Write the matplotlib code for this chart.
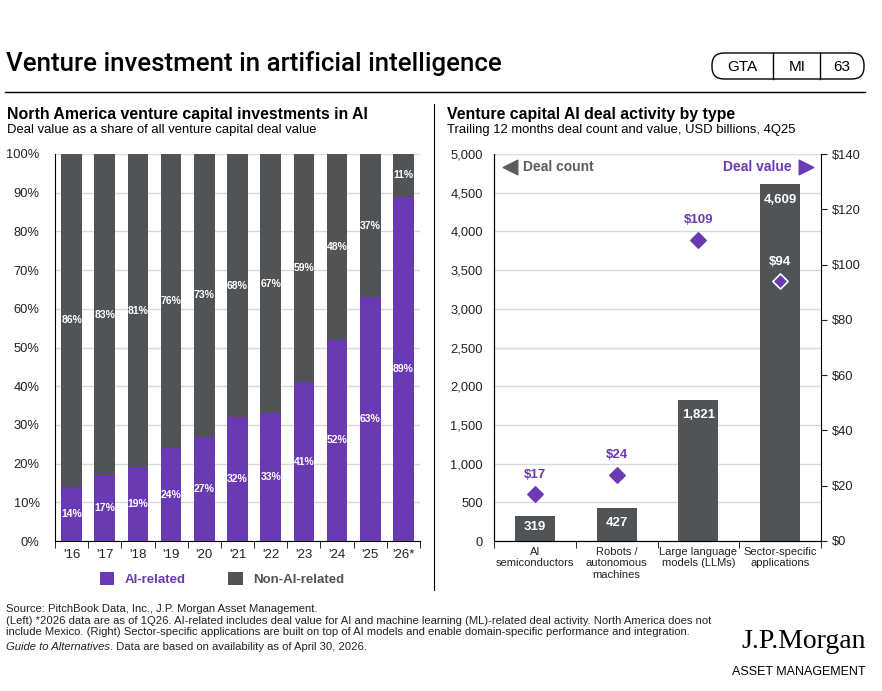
import matplotlib.pyplot as plt
import numpy as np
from matplotlib.patches import FancyBboxPatch, Rectangle

plt.rcParams['font.family'] = ['Liberation Sans', 'DejaVu Sans']

# ---- data ----
years = ["'16", "'17", "'18", "'19", "'20", "'21", "'22", "'23", "'24", "'25", "'26*"]
ai_share = [14, 17, 19, 24, 27, 32, 33, 41, 52, 63, 89]
non_ai_share = [86, 83, 81, 76, 73, 68, 67, 59, 48, 37, 11]

deal_types = ['AI\nsemiconductors', 'Robots /\nautonomous\nmachines',
              'Large language\nmodels (LLMs)', 'Sector-specific\napplications']
deal_count = [319, 427, 1821, 4609]
deal_value = [17, 24, 109, 94]

PURPLE = '#6a3ab2'
GRAY = '#515457'
GRID = '#d9d9d9'
TXT = '#222222'

W, H = 882, 691
fig = plt.figure(figsize=(W / 100, H / 100), dpi=100)


def rect(x0, y0, x1, y1):
    # pixel box (top-left origin) -> figure fraction
    return [x0 / W, 1 - y1 / H, (x1 - x0) / W, (y1 - y0) / H]


# overlay in pixel coordinates for header/footer decorations
deco = fig.add_axes([0, 0, 1, 1], zorder=-1)
deco.set_xlim(0, W)
deco.set_ylim(H, 0)
deco.axis('off')

deco.text(6, 63, 'Venture investment in artificial intelligence', fontsize=18.6,
          family=['Roboto', 'Liberation Sans'], fontweight='medium', color='black',
          va='center', ha='left')
deco.add_patch(FancyBboxPatch((712, 53), 152, 26, boxstyle='round,pad=0,rounding_size=12',
                              fc='white', ec='black', lw=1))
deco.plot([773, 773], [53, 79], color='black', lw=1)
deco.plot([820, 820], [53, 79], color='black', lw=1)
for x, s in [(742, 'GTA'), (797, 'MI'), (842, '63')]:
    deco.text(x, 66.5, s, fontsize=11, ha='center', va='center')
deco.plot([5, 865], [92, 92], color='black', lw=1)
deco.plot([434, 434], [104, 590], color='black', lw=0.8)

deco.text(7, 114, 'North America venture capital investments in AI', fontsize=11.4,
          fontweight='bold', va='center')
deco.text(7, 130, 'Deal value as a share of all venture capital deal value', fontsize=9.4,
          va='center')
deco.text(447, 114, 'Venture capital AI deal activity by type', fontsize=11.4,
          fontweight='bold', va='center')
deco.text(447, 130, 'Trailing 12 months deal count and value, USD billions, 4Q25', fontsize=9.4,
          va='center')

footer = ('Source: PitchBook Data, Inc., J.P. Morgan Asset Management.\n'
          '(Left) *2026 data are as of 1Q26. AI-related includes deal value for AI and machine '
          'learning (ML)-related deal activity. North America does not\n'
          'include Mexico. (Right) Sector-specific applications are built on top of AI models and '
          'enable domain-specific performance and integration.')
deco.text(6, 604, footer, fontsize=8.1, va='top', linespacing=1.2, color=TXT)
guide = deco.text(6, 647, 'Guide to Alternatives', fontsize=8.1, style='italic', va='center',
                  color=TXT)
deco.annotate('. Data are based on availability as of April 30, 2026.', xy=(1, 0.5),
              xycoords=guide, va='center', ha='left', fontsize=8.1, color=TXT)
deco.text(866, 642, 'J.P.Morgan', fontsize=20, family='Liberation Serif', ha='right', va='center')
deco.text(866, 672, 'ASSET MANAGEMENT', fontsize=9, ha='right', va='center')

# ---- left chart ----
ax1 = fig.add_axes(rect(55, 154, 420, 541))
x = np.arange(len(years))
ax1.bar(x, ai_share, width=0.62, color=PURPLE, zorder=3)
ax1.bar(x, non_ai_share, width=0.62, bottom=ai_share, color=GRAY, zorder=3)
for i in range(len(years)):
    ax1.text(x[i], ai_share[i] / 2, f'{ai_share[i]}%', color='white', fontsize=7.5,
             fontweight='bold', ha='center', va='center', zorder=4)
    ax1.text(x[i], ai_share[i] + non_ai_share[i] / 2, f'{non_ai_share[i]}%', color='white',
             fontsize=7.5, fontweight='bold', ha='center', va='center', zorder=4)
ax1.set_xlim(-0.5, len(years) - 0.5)
ax1.set_ylim(0, 100)
ax1.set_yticks(range(0, 101, 10))
ax1.set_yticklabels([f'{v}%' for v in range(0, 101, 10)])
ax1.set_xticks(x)
ax1.set_xticklabels(years)
ax1.set_xticks(np.arange(-0.5, len(years), 1), minor=True)
ax1.tick_params(axis='x', which='major', length=0, labelsize=9.5, pad=6, colors=TXT)
ax1.tick_params(axis='x', which='minor', length=5, direction='out', color='black')
ax1.tick_params(axis='y', length=0, labelsize=9.3, pad=11, colors=TXT)
ax1.grid(axis='y', color=GRID, lw=1, zorder=0)
for s in ['top', 'right']:
    ax1.spines[s].set_visible(False)

handles = [Rectangle((0, 0), 1, 1, fc=PURPLE), Rectangle((0, 0), 1, 1, fc=GRAY)]
leg = fig.legend(handles, ['AI-related', 'Non-AI-related'], loc='center',
                 bbox_to_anchor=(222 / W, 1 - 579 / H), ncol=2, frameon=False,
                 fontsize=9.5, handlelength=1.1, handleheight=1.1, columnspacing=3.2,
                 handletextpad=0.8)
for t, c in zip(leg.get_texts(), [PURPLE, GRAY]):
    t.set_color(c)
    t.set_fontweight('bold')

# ---- right chart ----
ax2 = fig.add_axes(rect(494, 154, 821, 541))
xr = np.arange(len(deal_types))
ax2.bar(xr, deal_count, width=0.49, color=GRAY, zorder=3)
for i, v in enumerate(deal_count):
    if v < 500:
        ax2.text(xr[i], v / 2 + 15, f'{v:,}', color='white', fontsize=9.5, fontweight='bold',
                 ha='center', va='center', zorder=4)
    else:
        ax2.annotate(f'{v:,}', (xr[i], v), xytext=(0, -11), textcoords='offset points',
                     color='white', fontsize=9.5, fontweight='bold', ha='center', va='center',
                     zorder=4)
ax2.set_xlim(-0.5, len(deal_types) - 0.5)
ax2.set_ylim(0, 5000)
ax2.set_yticks(range(0, 5001, 500))
ax2.set_yticklabels([f'{v:,}' for v in range(0, 5001, 500)])
ax2.set_xticks(xr)
ax2.set_xticklabels(deal_types)
ax2.set_xticks(np.arange(-0.5, len(deal_types), 1), minor=True)
ax2.tick_params(axis='x', which='major', length=0, labelsize=8, pad=4, colors=TXT)
ax2.tick_params(axis='x', which='minor', length=5, direction='out')
ax2.tick_params(axis='y', length=0, labelsize=9.3, pad=8, colors=TXT)
ax2.grid(axis='y', color=GRID, lw=1, zorder=0)
ax2.spines['top'].set_visible(False)
ax2.spines['right'].set_visible(False)

ax3 = ax2.twinx()
ax3.set_ylim(0, 140)
ax3.set_yticks(range(0, 141, 20))
ax3.set_yticklabels([f'${v}' for v in range(0, 141, 20)])
ax3.tick_params(axis='y', length=4, direction='out', labelsize=9.3, pad=4, colors=TXT)
ax3.spines['top'].set_visible(False)
for i, v in enumerate(deal_value):
    inside = deal_count[i] * 140 / 5000 > v
    ec = 'white' if inside else PURPLE
    ax3.scatter(xr[i], v, marker='D', s=60, color=PURPLE, edgecolor=ec, linewidth=1.2, zorder=5)
    ax3.annotate(f'${v}', (xr[i], v), xytext=(0, 14), textcoords='offset points',
                 color='white' if inside else PURPLE, fontsize=9.5, fontweight='bold',
                 ha='center', va='center')

ax2.text(0.09, 0.967, 'Deal count', transform=ax2.transAxes, color='#5a5c5f', fontsize=10,
         fontweight='bold', va='center')
ax2.scatter([0.05], [0.967], marker='<', s=110, color='#5a5c5f', transform=ax2.transAxes,
            clip_on=False, zorder=6)
ax2.text(0.91, 0.967, 'Deal value', transform=ax2.transAxes, color=PURPLE, fontsize=10,
         fontweight='bold', va='center', ha='right')
ax2.scatter([0.955], [0.967], marker='>', s=110, color=PURPLE, transform=ax2.transAxes,
            clip_on=False, zorder=6)

fig.savefig('out.png', dpi=100)
